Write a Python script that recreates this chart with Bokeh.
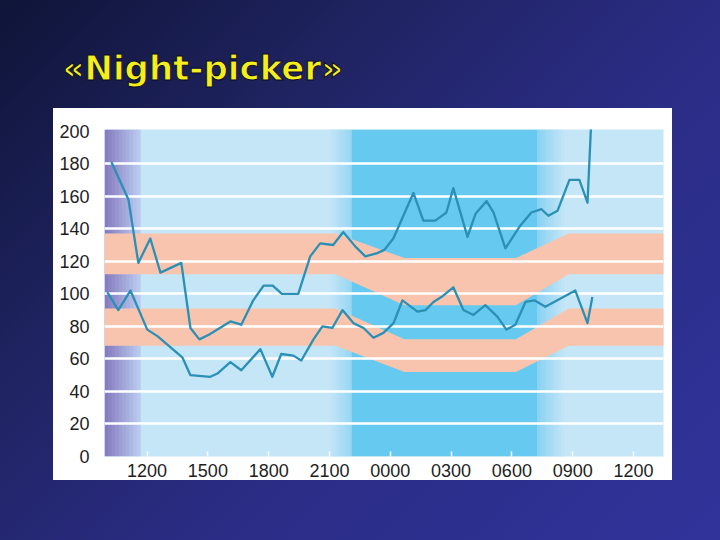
from bokeh.plotting import figure
from bokeh.models import FixedTicker, Range1d
from bokeh.embed import file_html
from bokeh.resources import INLINE

# ---------------- data (hours since midnight of day 1) ----------------
sys_time = [10.24, 11.08, 11.57, 12.16, 12.66, 13.69, 14.14, 14.58, 15.07, 16.11,
            16.65, 17.24, 17.75, 18.20, 18.65, 19.46, 20.05, 20.54, 21.18, 21.68,
            22.28, 22.77, 23.36, 23.71, 24.15, 25.14, 25.63, 26.22, 26.77, 27.11,
            27.81, 28.20, 28.75, 29.09, 29.68, 30.42, 30.96, 31.46, 31.80, 32.25,
            32.84, 33.33, 33.73, 33.93]
sys_val = [181, 158, 119, 134, 113, 119, 79, 72, 75, 83,
           81, 96, 105, 105, 100, 100, 123, 131, 130, 138,
           129, 123, 125, 127, 134, 162, 145, 145, 150, 165,
           135, 149, 157, 150, 128, 142, 150, 152, 148, 151,
           170, 170, 156, 210]

dia_time = [10.04, 10.58, 11.18, 12.01, 12.51, 13.74, 14.14, 15.12, 15.47, 16.11,
            16.65, 17.59, 18.18, 18.62, 19.22, 19.61, 20.21, 20.65, 21.14, 21.64,
            22.18, 22.68, 23.17, 23.66, 24.16, 24.60, 25.34, 25.74, 26.13, 26.52,
            27.11, 27.61, 28.10, 28.69, 29.28, 29.73, 30.17, 30.67, 31.11, 31.65,
            33.13, 33.73, 33.97]
dia_val = [101, 90, 102, 78, 74, 61, 50, 49, 51, 58,
           53, 66, 49, 63, 62, 59, 72, 80, 79, 90,
           82, 79, 73, 76, 82, 96, 89, 90, 95, 98,
           104, 90, 87, 93, 86, 78, 81, 95, 96, 92,
           102, 82, 98]

band_time = [9.9, 21.3, 24.7, 30.2, 32.8, 37.5]
sys_band_hi = [137, 137, 122, 122, 137, 137]
sys_band_lo = [112, 112, 93, 93, 112, 112]
dia_band_hi = [91, 91, 72, 72, 91, 91]
dia_band_lo = [68, 68, 52, 52, 68, 68]

x_ticks = [12, 15, 18, 21, 24, 27, 30, 33, 36]
x_tick_labels = ["1200", "1500", "1800", "2100", "0000", "0300", "0600", "0900", "1200"]
y_ticks = [0, 20, 40, 60, 80, 100, 120, 140, 160, 180, 200]

x_start, x_end = 9.9, 37.48
y_start, y_end = 0, 201
purple_span = (9.9, 11.65)
night_span = (21.05, 22.1, 31.24, 32.55)
title_text = "«Night-picker»"

# ---------------- styles ----------------
BASE = "#c5e6f7"
NIGHT = "#66c9ef"
PINK = "#f9c4ae"
LINE = "#2a90b6"


def hx(c):
    c = c.lstrip("#")
    return [int(c[i:i + 2], 16) for i in (0, 2, 4)]


def mix(c1, c2, t):
    t = max(0.0, min(1.0, t))
    a, b = hx(c1), hx(c2)
    return "#%02x%02x%02x" % tuple(int(round(a[i] + (b[i] - a[i]) * t)) for i in range(3))


slide_bg = ("linear-gradient(#ffffff, #ffffff) 53px 108px / 619px 372px no-repeat, "
            "linear-gradient(135deg, #0f1438 0%, #202463 32%, #2a2c84 58%, #31339b 100%)")

p = figure(width=720, height=540, x_range=Range1d(x_start, x_end),
           y_range=Range1d(y_start, y_end), output_backend="svg",
           toolbar_location=None, title=title_text,
           min_border_left=104, min_border_right=57, min_border_top=129,
           min_border_bottom=84, background_fill_color=BASE,
           border_fill_color=None, outline_line_color=None)
p.styles = {"background": slide_bg}

p.title.align = "left"
p.title.offset = -42
p.title.standoff = 84
p.title.text_font = "DejaVu Sans"
p.title.text_font_style = "bold"
p.title.text_font_size = "34px"
p.title.text_color = "#f4ee1c"
try:
    p.title.text_outline_color = "#0c0c26"
except Exception:
    pass

n = 10
pl, pr = purple_span
lefts, rights, cols = [], [], []
for i in range(n):
    a = pl + (pr - pl) * i / n
    b = pl + (pr - pl) * (i + 1) / n
    lefts.append(a)
    rights.append(b + 0.03)
    cols.append(mix("#877cbf", "#b8c8ee", i / (n - 1)))
p.quad(left=lefts, right=rights, bottom=y_start, top=y_end, fill_color=cols,
       line_color=None, level="image")

n0, n1, n2, n3 = night_span
lefts, rights, cols = [], [], []
for i in range(n):
    a = n0 + (n1 - n0) * i / n
    b = n0 + (n1 - n0) * (i + 1) / n
    lefts.append(a)
    rights.append(b + 0.03)
    cols.append(mix(BASE, "#98d7f3", (i + 1) / n))
lefts.append(n1)
rights.append(n2 + 0.03)
cols.append(NIGHT)
for i in range(n):
    a = n2 + (n3 - n2) * i / n
    b = n2 + (n3 - n2) * (i + 1) / n
    lefts.append(a)
    rights.append(b + 0.03)
    cols.append(mix("#8cd2f2", BASE, i / n))
p.quad(left=lefts, right=rights, bottom=y_start, top=y_end, fill_color=cols,
       line_color=None, level="image")

p.varea(x=band_time, y1=sys_band_lo, y2=sys_band_hi, fill_color=PINK, level="image")
p.varea(x=band_time, y1=dia_band_lo, y2=dia_band_hi, fill_color=PINK, level="image")

p.line(sys_time, sys_val, line_color=LINE, line_width=2.3, line_join="round")
p.line(dia_time, dia_val, line_color=LINE, line_width=2.3, line_join="round")

p.xaxis.ticker = FixedTicker(ticks=x_ticks)
p.xaxis.major_label_overrides = {t: s for t, s in zip(x_ticks, x_tick_labels)}
p.yaxis.ticker = FixedTicker(ticks=y_ticks)
for ax in (p.xaxis, p.yaxis):
    ax.axis_line_color = None
    ax.minor_tick_line_color = None
    ax.major_label_text_font = "Liberation Sans"
    ax.major_label_text_font_size = "18px"
    ax.major_label_text_color = "#1e1e1e"
p.xaxis.major_tick_in = 5
p.xaxis.major_tick_out = 0
p.xaxis.major_tick_line_color = "white"
p.xaxis.major_tick_line_width = 1.5
p.xaxis.major_label_standoff = 7
p.yaxis.major_tick_line_color = None
p.yaxis.major_label_standoff = 9

p.xgrid.grid_line_color = None
p.ygrid.grid_line_color = "white"
p.ygrid.grid_line_width = 2.5
p.ygrid.ticker = FixedTicker(ticks=y_ticks[1:-1])

open("out.html", "w").write(file_html(p, INLINE))
